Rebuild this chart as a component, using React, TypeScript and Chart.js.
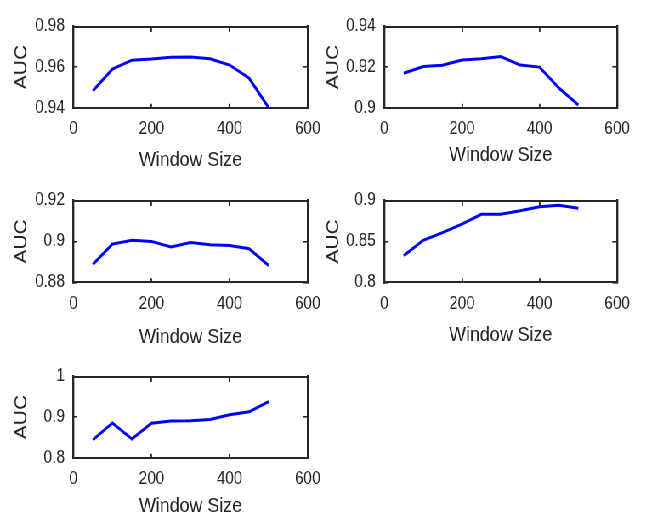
import React, { useEffect, useRef } from "react";
import { Chart, registerables } from "chart.js";

Chart.register(...registerables);

// ---------- data ----------
const windowSizes = [50, 100, 150, 200, 250, 300, 350, 400, 450, 500];
const aucA = [0.9483, 0.959, 0.9634, 0.964, 0.9649, 0.965, 0.9641, 0.961, 0.9545, 0.94];
const aucB = [0.917, 0.9203, 0.9209, 0.9235, 0.9241, 0.9252, 0.921, 0.92, 0.9097, 0.9013];
const aucC = [0.8888, 0.8987, 0.9006, 0.9, 0.8973, 0.8994, 0.8984, 0.898, 0.8964, 0.8882];
const aucD = [0.8324, 0.8514, 0.8608, 0.8712, 0.8831, 0.8831, 0.8874, 0.8924, 0.8942, 0.8906];
const aucE = [0.844, 0.8855, 0.846, 0.8847, 0.8905, 0.891, 0.894, 0.9058, 0.913, 0.938];

const xTickValues = [0, 200, 400, 600];
const yTicksA = [0.94, 0.96, 0.98];
const yTicksB = [0.9, 0.92, 0.94];
const yTicksC = [0.88, 0.9, 0.92];
const yTicksD = [0.8, 0.85, 0.9];
const yTicksE = [0.8, 0.9, 1];

const xTitle = "Window Size";
const yTitle = "AUC";

// ---------- layout (image pixel coords) ----------
const S = 0.85; // horizontal squeeze of the whole figure
const F_TICK = 18;
const F_TITLE = 21;
const INK = "#262626";
const FONT = "'Liberation Sans', Arial, Helvetica, sans-serif";
const TICK_LEN = 4;

const panels = [
  { values: aucA, yTicks: yTicksA, L: 73.3, R: 310.7, T: 17.3, B: 107.7, yTitleX: 21.6, xTitleY: 160.5 },
  { values: aucB, yTicks: yTicksB, L: 384.3, R: 620.7, T: 17.3, B: 107.7, yTitleX: 333.6, xTitleY: 155 },
  { values: aucC, yTicks: yTicksC, L: 73.3, R: 310.7, T: 190.7, B: 282.3, yTitleX: 21.6, xTitleY: 337.5 },
  { values: aucD, yTicks: yTicksD, L: 384.3, R: 620.7, T: 190.7, B: 282.3, yTitleX: 333.6, xTitleY: 335 },
  { values: aucE, yTicks: yTicksE, L: 73.3, R: 310.7, T: 367.3, B: 457.7, yTitleX: 21.6, xTitleY: 506 },
];

function geom(p: any) {
  const left = Math.round(p.yTitleX / S - F_TITLE / 2);
  const top = Math.round(p.T - 16);
  const bottom = Math.round(p.xTitleY + F_TITLE / 2);
  const right = Math.round(p.R / S + 26);
  const width = right - left;
  const height = bottom - top;
  const wy = p.L / S - left;
  const hx = bottom - p.B;
  const padTop = p.T - top;
  const padRight = right - p.R / S;
  return { left, top, width, height, wy, hx, padTop, padRight };
}

function hFrame(tl: number) {
  return {
    border: { display: true, color: INK, width: 2 },
    grid: {
      display: true,
      drawOnChartArea: false,
      drawTicks: true,
      tickLength: tl,
      color: INK,
      lineWidth: 1.8,
    },
  };
}
function vFrame(tl: number) {
  return {
    border: { display: true, color: INK, width: 2 / S },
    grid: {
      display: true,
      drawOnChartArea: false,
      drawTicks: true,
      tickLength: tl,
      color: INK,
      lineWidth: 1.6,
    },
  };
}

function Panel({ p }: { p: any }) {
  const ref = useRef<HTMLCanvasElement | null>(null);
  const g = geom(p);
  useEffect(() => {
    if (!ref.current) return;
    const yMin = p.yTicks[0];
    const yMax = p.yTicks[p.yTicks.length - 1];
    const setX = (s: any) => {
      s.ticks = xTickValues.map((v) => ({ value: v }));
    };
    const setY = (s: any) => {
      s.ticks = p.yTicks.map((v: number) => ({ value: v }));
    };
    const chart = new Chart(ref.current, {
      type: "line",
      data: {
        datasets: [
          {
            data: windowSizes.map((w, i) => ({ x: w, y: p.values[i] })),
            borderColor: "#0000ff",
            borderWidth: 3,
            pointRadius: 0,
            tension: 0,
            fill: false,
            xAxisID: "x",
            yAxisID: "y",
          },
        ],
      },
      options: {
        responsive: false,
        animation: false,
        layout: { padding: { top: g.padTop, right: g.padRight, left: 0, bottom: 0 } },
        plugins: { legend: { display: false }, tooltip: { enabled: false } },
        scales: {
          x: {
            type: "linear",
            position: "bottom",
            min: 0,
            max: 600,
            ...hFrame(-TICK_LEN),
            afterBuildTicks: setX,
            afterFit: (s: any) => {
              s.height = g.hx;
            },
            ticks: {
              color: INK,
              padding: 11 + TICK_LEN,
              maxRotation: 0,
              font: { family: FONT, size: F_TICK },
              callback: (v: any) => String(v),
            },
            title: {
              display: true,
              text: xTitle,
              color: INK,
              padding: 0,
              font: { family: FONT, size: F_TITLE, lineHeight: 1 },
            },
          },
          x2: {
            type: "linear",
            position: { y: yMax },
            min: 0,
            max: 600,
            ...hFrame(TICK_LEN),
            afterBuildTicks: setX,
            ticks: { display: false },
            title: { display: false },
          },
          y: {
            type: "linear",
            position: "left",
            min: yMin,
            max: yMax,
            ...vFrame(-TICK_LEN / S),
            afterBuildTicks: setY,
            afterFit: (s: any) => {
              s.width = g.wy;
            },
            ticks: {
              color: INK,
              padding: 10 + TICK_LEN / S,
              font: { family: FONT, size: F_TICK },
              callback: (v: any) => String(Number(Number(v).toFixed(3))),
            },
            title: {
              display: true,
              text: yTitle,
              color: INK,
              padding: 0,
              font: { family: FONT, size: F_TITLE, lineHeight: 1 },
            },
          },
          y2: {
            type: "linear",
            position: { x: 600 },
            min: yMin,
            max: yMax,
            ...vFrame(TICK_LEN / S),
            afterBuildTicks: setY,
            ticks: { display: false },
            title: { display: false },
          },
        },
      },
    } as any);
    return () => chart.destroy();
  }, []);
  return (
    <canvas
      ref={ref}
      width={g.width}
      height={g.height}
      style={{ position: "absolute", left: g.left, top: g.top, width: g.width, height: g.height }}
    />
  );
}

export default function App() {
  return (
    <div
      style={{
        position: "fixed",
        left: 0,
        top: 0,
        width: 648 / S,
        height: 516,
        background: "#ffffff",
        transform: `scaleX(${S})`,
        transformOrigin: "0 0",
        overflow: "hidden",
      }}
    >
      {panels.map((p, i) => (
        <Panel key={i} p={p} />
      ))}
    </div>
  );
}
